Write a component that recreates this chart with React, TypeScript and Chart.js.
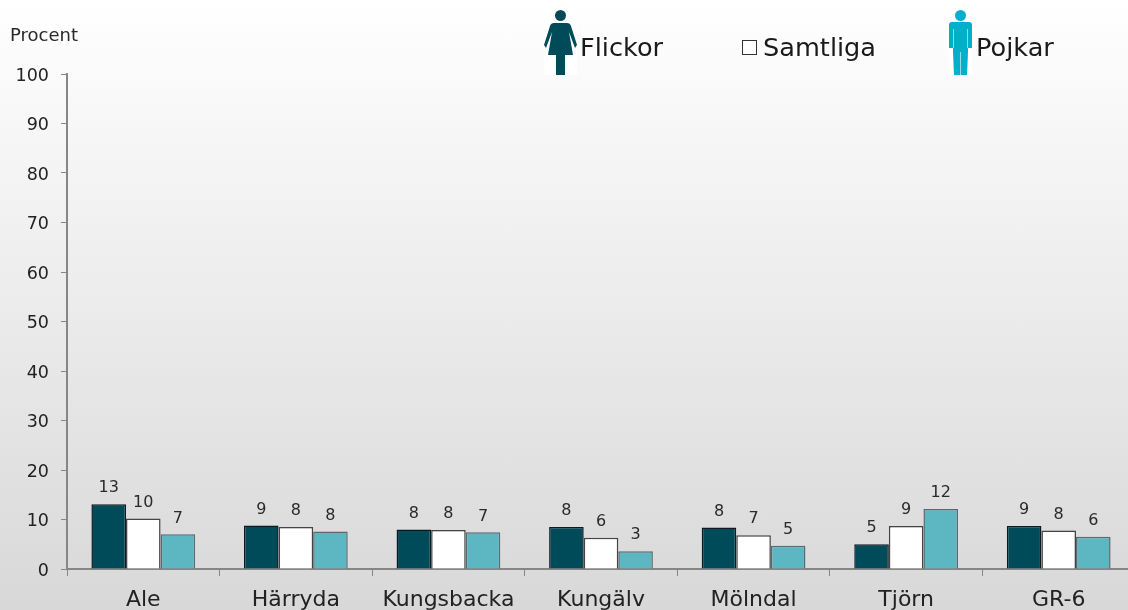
import React, { useEffect, useRef } from "react";
import Chart from "chart.js/auto";

const categories = ["Ale", "Härryda", "Kungsbacka", "Kungälv", "Mölndal", "Tjörn", "GR-6"];
const flickor = [13.1, 8.8, 8.0, 8.5, 8.4, 5.0, 8.7];
const samtliga = [10.2, 8.5, 7.9, 6.3, 6.8, 8.7, 7.8];
const pojkar = [7.0, 7.6, 7.4, 3.6, 4.7, 12.1, 6.5];
const flickorLabels = ["13", "9", "8", "8", "8", "5", "9"];
const samtligaLabels = ["10", "8", "8", "6", "7", "9", "8"];
const pojkarLabels = ["7", "8", "7", "3", "5", "12", "6"];
const yTicks = [0, 10, 20, 30, 40, 50, 60, 70, 80, 90, 100];
const FONT = '"DejaVu Sans"';

const labelPlugin = {
  id: "valueLabels",
  afterDatasetsDraw(chart: any) {
    const { ctx } = chart;
    const sets = [flickorLabels, samtligaLabels, pojkarLabels];
    ctx.save();
    ctx.font = `16px ${FONT}`;
    ctx.fillStyle = "#2a2a2a";
    ctx.textAlign = "center";
    ctx.textBaseline = "middle";
    sets.forEach((labels, d) => {
      chart.getDatasetMeta(d).data.forEach((bar: any, i: number) => {
        ctx.fillText(labels[i], bar.x, bar.y - 16);
      });
    });
    ctx.restore();
  },
};

const legendPlugin = {
  id: "pictoLegend",
  afterDraw(chart: any) {
    const { ctx } = chart;
    ctx.save();
    // woman
    ctx.fillStyle = "#fff";
    ctx.fillRect(544, 10, 33, 65);
    ctx.fillStyle = "#004B5A";
    ctx.beginPath();
    ctx.arc(560.5, 15.5, 5.5, 0, Math.PI * 2);
    ctx.fill();
    ctx.fill(new Path2D("M554 23 L567 23 Q570 23 571 26 L577 45 L575 48 L569 32 L573 55 L565 55 L565 75 L556 75 L556 55 L548 55 L552 32 L546 48 L544 45 L550 26 Q551 23 554 23 Z"));
    // man
    ctx.fillStyle = "#fff";
    ctx.fillRect(949, 10, 23, 65);
    ctx.fillStyle = "#00B0CA";
    ctx.beginPath();
    ctx.arc(960.5, 15.5, 5.5, 0, Math.PI * 2);
    ctx.fill();
    ctx.fill(new Path2D("M952 22 L969 22 Q972 22 972 25 L972 48 L968 48 L968 52 L967 75 L954 75 L953 52 L953 48 L949 48 L949 25 Q949 22 952 22 Z"));
    ctx.strokeStyle = "#8fdbe8";
    ctx.lineWidth = 1;
    ctx.beginPath();
    ctx.moveTo(953.5, 29); ctx.lineTo(953.5, 48);
    ctx.moveTo(967.5, 29); ctx.lineTo(967.5, 48);
    ctx.moveTo(960.5, 52); ctx.lineTo(960.5, 75);
    ctx.stroke();
    // samtliga square
    ctx.fillStyle = "#fff";
    ctx.strokeStyle = "#333";
    ctx.lineWidth = 1;
    ctx.fillRect(742.5, 40.5, 14, 14);
    ctx.strokeRect(742.5, 40.5, 14, 14);
    // texts
    ctx.fillStyle = "#1a1a1a";
    ctx.textBaseline = "alphabetic";
    ctx.textAlign = "left";
    ctx.font = `25.6px ${FONT}`;
    ctx.fillText("Flickor", 580, 55.5);
    ctx.fillText("Samtliga", 763, 55.5);
    ctx.fillText("Pojkar", 976, 55.5);
    ctx.font = `18px ${FONT}`;
    ctx.fillStyle = "#2a2a2a";
    ctx.fillText("Procent", 10, 41);
    ctx.restore();
  },
};

export default function App() {
  const ref = useRef<HTMLCanvasElement>(null);
  useEffect(() => {
    document.body.style.margin = "0";
    const mk = (label: string, data: number[], bg: string, border: string, bw: number) => ({
      label,
      data,
      backgroundColor: bg,
      borderColor: border,
      borderWidth: bw,
      categoryPercentage: 0.68,
      barPercentage: 1,
    });
    const chart = new Chart(ref.current!, {
      type: "bar",
      data: {
        labels: categories,
        datasets: [
          mk("Flickor", flickor, "#004B5A", "#0a1a20", 1.5),
          mk("Samtliga", samtliga, "#FFFFFF", "#444", 1.5),
          mk("Pojkar", pojkar, "#5DB7C3", "#5a6a70", 1.5),
        ],
      },
      options: {
        animation: false,
        responsive: false,
        maintainAspectRatio: false,
        layout: { padding: { top: 74, left: 0, right: 0, bottom: 0 } },
        plugins: { legend: { display: false }, tooltip: { enabled: false }, title: { display: false } },
        scales: {
          x: {
            afterFit: (s: any) => { s.height = 41; },
            border: { color: "#868686", width: 2 },
            grid: { drawOnChartArea: false, color: "#868686", tickLength: 7, offset: true, lineWidth: 1 },
            ticks: { color: "#222", font: { family: FONT, size: 22 }, padding: 11, maxRotation: 0, autoSkip: false },
          },
          y: {
            min: 0,
            max: 100,
            afterFit: (s: any) => { s.width = 67; },
            afterBuildTicks: (s: any) => { s.ticks = yTicks.map((value) => ({ value })); },
            border: { color: "#868686", width: 2 },
            grid: { drawOnChartArea: false, color: "#868686", tickLength: 6 },
            ticks: { color: "#222", font: { family: FONT, size: 17.5 }, padding: 12, labelOffset: 2 },
          },
        },
      },
      plugins: [labelPlugin, legendPlugin],
    } as any);
    return () => chart.destroy();
  }, []);
  return (
    <div style={{ width: 1128, height: 610, overflow: "hidden", position: "relative", background: "linear-gradient(to bottom, #ffffff 0%, #d8d8d8 100%)" }}>
      <canvas ref={ref} width={1135} height={610} style={{ display: "block" }} />
    </div>
  );
}
